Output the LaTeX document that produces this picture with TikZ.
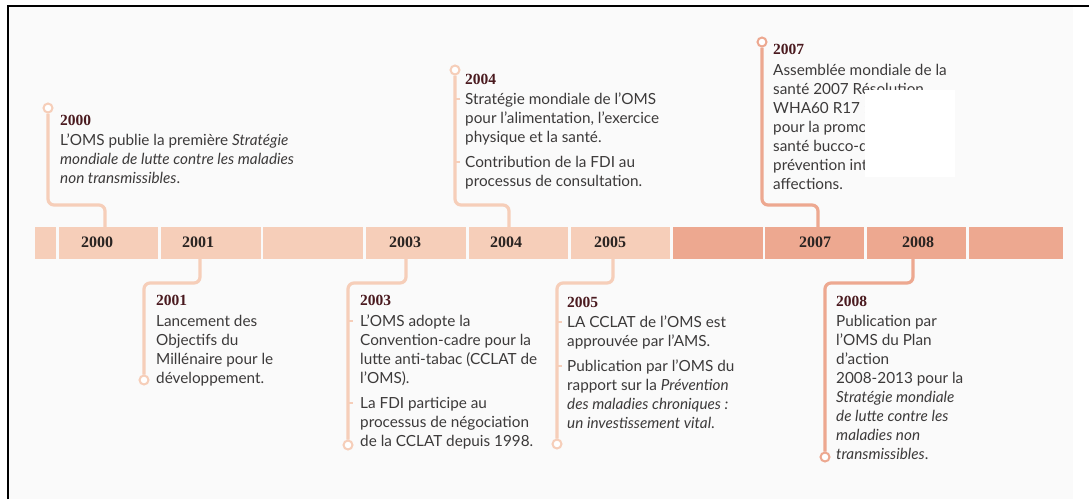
\documentclass[tikz,border=0pt]{standalone}
\usepackage{fontspec}
\setmainfont{Lato}
\newfontfamily\yearfont{Liberation Serif}
\definecolor{bgc}{HTML}{FAFAFA}
\definecolor{lightc}{HTML}{F6CEB9}
\definecolor{darkc}{HTML}{EDA890}
\definecolor{maroonc}{HTML}{4A1A1F}
\definecolor{bodyc}{HTML}{3C3A3A}
\definecolor{yearc}{HTML}{2A2422}
\newcommand\tlblock[1]{\vtop{\baselineskip=19pt\lineskiplimit=-20pt\lineskip=0pt #1}}
\newcommand\lline[1]{\hbox{#1}}
\newcommand\hyear[1]{\hbox{\yearfont\bfseries\fontsize{15.5}{19}\selectfont\color{maroonc}#1}}
\newcommand\pgap{\vskip6pt}
\tikzset{
  seg/.style={rectangle, inner sep=0pt, minimum height=32pt, draw=none},
  barlabel/.style={anchor=base, inner sep=0pt, font=\yearfont\bfseries\fontsize{16}{19}\selectfont, text=yearc},
  txt/.style={anchor=base west, inner sep=0pt, font=\fontsize{15.3}{19}\selectfont, text=bodyc},
  dot/.style={circle, inner sep=0pt, minimum size=9pt, fill=white, line width=2pt},
  conn/.style={line width=3.2pt, rounded corners=6pt},
  tick/.style={line width=2.4pt}
}
\begin{document}
\begin{tikzpicture}[x=1pt,y=-1pt]
\useasboundingbox (0,0) rectangle (1089,499);
\fill[white] (0,0) rectangle (1089,499);
\fill[bgc] (8,6) rectangle (1073,499);
\draw[line width=2.5pt] (8,499) -- (8,6) -- (1089,6);

% timeline bar
\node[seg, fill=lightc, minimum width=21pt]  (s0)  at (45.5,243) {};
\node[seg, fill=lightc, minimum width=99pt]  (s2000) at (108.5,243) {};
\node[seg, fill=lightc, minimum width=100pt] (s2001) at (211,243) {};
\node[seg, fill=lightc, minimum width=100pt] (s2002) at (313,243) {};
\node[seg, fill=lightc, minimum width=100pt] (s2003) at (416,243) {};
\node[seg, fill=lightc, minimum width=99pt]  (s2004) at (518.5,243) {};
\node[seg, fill=lightc, minimum width=99pt]  (s2005) at (620.5,243) {};
\node[seg, fill=darkc, minimum width=90pt]   (s2006) at (718,243) {};
\node[seg, fill=darkc, minimum width=99pt]   (s2007) at (814.5,243) {};
\node[seg, fill=darkc, minimum width=99pt]   (s2008) at (916.5,243) {};
\node[seg, fill=darkc, minimum width=94pt]   (s2009) at (1016,243) {};

\node[barlabel] (l2000) at (97,247) {2000};
\node[barlabel] (l2001) at (198,247) {2001};
\node[barlabel] (l2003) at (405,247) {2003};
\node[barlabel] (l2004) at (506,247) {2004};
\node[barlabel] (l2005) at (610,247) {2005};
\node[barlabel] (l2007) at (815,247) {2007};
\node[barlabel] (l2008) at (918,247) {2008};

% attachment points on the bar
\coordinate (a2000) at (105,227);
\coordinate (a2004) at (509,227);
\coordinate (a2007) at (818,227);
\coordinate (a2001) at (200,259);
\coordinate (a2003) at (406,259);
\coordinate (a2005) at (613,259);
\coordinate (a2008) at (913,259);

% end dots
\node[dot, draw=lightc] (d2000) at (48,108) {};
\node[dot, draw=lightc] (d2004) at (455,70) {};
\node[dot, draw=darkc]  (d2007) at (762,42) {};
\node[dot, draw=lightc] (d2001) at (144,380) {};
\node[dot, draw=lightc] (d2003) at (348,445) {};
\node[dot, draw=lightc] (d2005) at (557,444) {};
\node[dot, draw=darkc]  (d2008) at (825,457) {};

% connectors
\draw[conn, draw=lightc] (d2000) |- ([yshift=22pt]a2000) -- (a2000);
\draw[conn, draw=lightc] (d2004) |- ([yshift=22pt]a2004) -- (a2004);
\draw[conn, draw=darkc]  (d2007) |- ([yshift=22pt]a2007) -- (a2007);
\draw[conn, draw=lightc] (d2001) |- ([yshift=-24pt]a2001) -- (a2001);
\draw[conn, draw=lightc] (d2003) |- ([yshift=-24pt]a2003) -- (a2003);
\draw[conn, draw=lightc] (d2005) |- ([yshift=-24pt]a2005) -- (a2005);
\draw[conn, draw=darkc]  (d2008) |- ([yshift=-24pt]a2008) -- (a2008);

% paragraph ticks
\draw[tick, lightc] (455,99) -- ++(5,0);
\draw[tick, lightc] (455,162) -- ++(5,0);
\draw[tick, lightc] (348,321) -- ++(5,0);
\draw[tick, lightc] (348,403) -- ++(5,0);
\draw[tick, lightc] (557,322) -- ++(5,0);
\draw[tick, lightc] (557,366) -- ++(5,0);

% texts
\node[txt] (t2000) at (60,125) {\tlblock{%
  \hyear{2000}\vskip1pt
  \lline{L’OMS publie la première \textit{Stratégie}}
  \lline{\textit{mondiale de lutte contre les maladies}}
  \lline{\textit{non transmissibles}.}}};

\node[txt] (t2004) at (465,84) {\tlblock{%
  \hyear{2004}\vskip1pt
  \lline{Stratégie mondiale de l’OMS}
  \lline{pour l’alimentation, l’exercice}
  \lline{physique et la santé.}\pgap
  \lline{Contribution de la FDI au}
  \lline{processus de consultation.}}};

\node[txt] (t2007) at (773,54) {\tlblock{%
  \hyear{2007}\vskip2pt
  \lline{Assemblée mondiale de la}
  \lline{santé 2007 Résolution}
  \lline{WHA60 R17 :}
  \lline{pour la promo}
  \lline{santé bucco-d}
  \lline{prévention int}
  \lline{affections.}}};
\fill[white] (865,90) rectangle (955,177);

\node[txt] (t2001) at (156,305) {\tlblock{%
  \hyear{2001}\vskip2pt
  \lline{Lancement des}
  \lline{Objectifs du}
  \lline{Millénaire pour le}
  \lline{développement.}}};

\node[txt] (t2003) at (360,305) {\tlblock{%
  \hyear{2003}\vskip2pt
  \lline{L’OMS adopte la}
  \lline{Convention-cadre pour la}
  \lline{lutte anti-tabac (CCLAT de}
  \lline{l’OMS).}\pgap
  \lline{La FDI participe au}
  \lline{processus de négociation}
  \lline{de la CCLAT depuis 1998.}}};

\node[txt] (t2005) at (567,307) {\tlblock{%
  \hyear{2005}\vskip1pt
  \lline{LA CCLAT de l’OMS est}
  \lline{approuvée par l’AMS.}\pgap
  \lline{Publication par l’OMS du}
  \lline{rapport sur la \textit{Prévention}}
  \lline{\textit{des maladies chroniques :}}
  \lline{\textit{un investissement vital}.}}};

\node[txt] (t2008) at (836,306) {\tlblock{%
  \hyear{2008}\vskip1pt
  \lline{Publication par}
  \lline{l’OMS du Plan}
  \lline{d’action}
  \lline{2008-2013 pour la}
  \lline{\textit{Stratégie mondiale}}
  \lline{\textit{de lutte contre les}}
  \lline{\textit{maladies non}}
  \lline{\textit{transmissibles}.}}};
\end{tikzpicture}
\end{document}
